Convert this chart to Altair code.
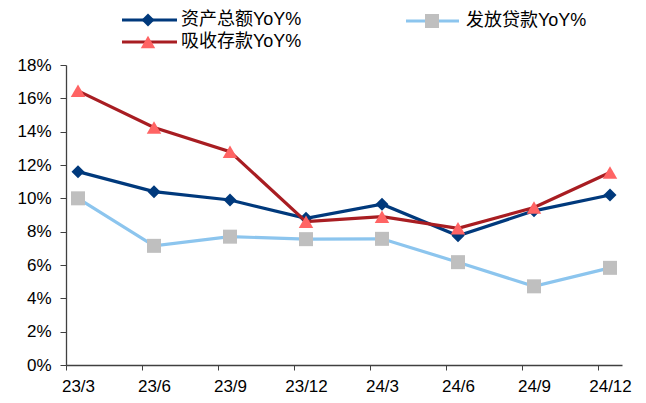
import altair as alt
import pandas as pd

periods = ["23/3", "23/6", "23/9", "23/12", "24/3", "24/6", "24/9", "24/12"]
assets = [11.6, 10.4, 9.9, 8.8, 9.65, 7.75, 9.25, 10.2]
loans = [10.0, 7.15, 7.7, 7.55, 7.57, 6.17, 4.72, 5.83]
deposits = [16.45, 14.25, 12.8, 8.6, 8.9, 8.2, 9.45, 11.55]

names = ["资产总额YoY%", "发放贷款YoY%", "吸收存款YoY%"]
series_values = [assets, loans, deposits]
line_colors = ["#00397C", "#8CC5EE", "#A81D22"]
marker_colors = ["#00397C", "#BFBFBF", "#FF6464"]
shapes = ["diamond", "square", "triangle-up"]
marker_sizes = [170, 196, 210]

FONT = "Liberation Sans, Arial, Noto Sans CJK SC"

x_enc = alt.X(
    "period:N",
    sort=periods,
    scale=alt.Scale(type="point", padding=0.158),
    axis=alt.Axis(
        title=None,
        labelAngle=0,
        tickOffset=-12,
        labelOffset=12,
        tickSize=5,
        labelPadding=8,
        labelFontSize=17,
        labelFont=FONT,
        labelColor="#000000",
        domainColor="#404040",
        tickColor="#404040",
        domainWidth=1.3,
        grid=False,
    ),
)
y_enc = alt.Y(
    "value:Q",
    scale=alt.Scale(domain=[0, 18], nice=False),
    axis=alt.Axis(
        title=None,
        values=list(range(0, 19, 2)),
        labelExpr="datum.value + '%'",
        tickSize=6,
        labelPadding=9,
        labelFontSize=17,
        labelFont=FONT,
        labelColor="#000000",
        domainColor="#404040",
        tickColor="#404040",
        domainWidth=1.3,
        grid=False,
    ),
)

layers = []
for name, vals, lc, mc, sh, sz in zip(names, series_values, line_colors, marker_colors, shapes, marker_sizes):
    df = pd.DataFrame({"period": periods, "value": vals, "series": name})
    base = alt.Chart(df).encode(x=x_enc, y=y_enc)
    layers.append(base.mark_line(color=lc, strokeWidth=3.2))
    layers.append(base.mark_point(shape=sh, size=sz, filled=True, color=mc, opacity=1))

# legend (drawn manually so that each entry shows a line with its marker)
legend_pos = [(56, 111, 82, 115, -45), (340, 393, 366, 400, -44), (56, 111, 82, 115, -23)]
legend_layers = []
for name, lc, mc, sh, sz, (xa, xb, xm, xt, yy) in zip(names, line_colors, marker_colors, shapes, marker_sizes, legend_pos):
    ldf = pd.DataFrame({"label": [name]})
    lb = alt.Chart(ldf)
    legend_layers.append(
        lb.mark_rule(color=lc, strokeWidth=3.2).encode(
            x=alt.value(xa), x2=alt.value(xb), y=alt.value(yy)
        )
    )
    legend_layers.append(
        lb.mark_point(shape=sh, size=sz, filled=True, color=mc, opacity=1).encode(
            x=alt.value(xm), y=alt.value(yy)
        )
    )
    legend_layers.append(
        lb.mark_text(align="left", baseline="middle", fontSize=18, font=FONT, color="#000000").encode(
            x=alt.value(xt), y=alt.value(yy), text="label:N"
        )
    )

chart = alt.layer(*layers, *legend_layers).properties(
    width=556,
    height=300,
    autosize=alt.AutoSizeParams(type="none"),
    padding={"left": 58, "top": 57, "right": 16, "bottom": 30},
).configure_view(strokeWidth=0)

chart.save("out.html", embed_options={"renderer": "svg", "actions": False})
